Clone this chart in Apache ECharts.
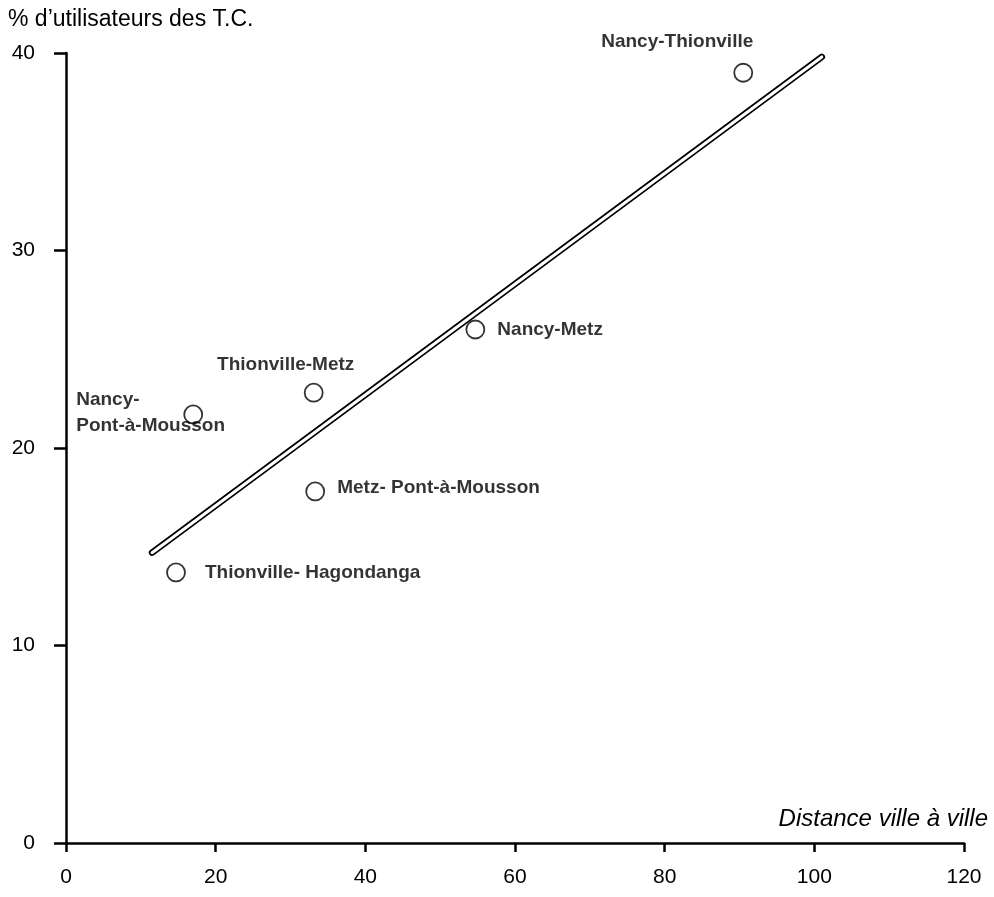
<!DOCTYPE html>
<html><head><meta charset="utf-8">
<script src="https://cdn.jsdelivr.net/npm/echarts@6/dist/echarts.min.js"></script>
<style>html,body{margin:0;padding:0;background:#fff}#c{width:994px;height:897px}</style>
</head><body><div id="c"></div>
<script>
const names = ['Nancy-Thionville','Nancy-Metz','Thionville-Metz','Nancy-\nPont-à-Mousson','Metz- Pont-à-Mousson','Thionville- Hagondanga'];
const distance = [90.5, 54.7, 33.1, 17.0, 33.3, 14.7];
const pctTC = [39.0, 26.0, 22.8, 21.7, 17.8, 13.7];
const fitX = [11.5, 101];
const fitY = [14.7, 39.8];
const xTicks = [0, 20, 40, 60, 80, 100, 120];
const yTicks = [0, 10, 20, 30, 40];

// label placement (style only)
const labelStyle = [
  {align:'center', offset:[-66,-31]},
  {align:'left', offset:[22,0]},
  {align:'center', offset:[-28,-28]},
  {align:'left', offset:[-117,-2]},
  {align:'left', offset:[22,-4]},
  {align:'left', offset:[29,0]}
];

const font = '"Liberation Sans", Arial, sans-serif';
const pts = names.map((n,i)=>{
  const s = labelStyle[i];
  return {name:n, value:[distance[i], pctTC[i]], label:{show:true, formatter:n,
    position:'inside', offset:s.offset, align:s.align, verticalAlign:'middle',
    fontFamily:font, fontWeight:'bold', fontSize:19, color:'#000', lineHeight:26,
    textBorderWidth:0, textBorderColor:'transparent'}};
});

const chart = echarts.init(document.getElementById('c'), null, {renderer:'canvas'});
chart.setOption({
  animation:false,
  backgroundColor:'#fff',
  grid:{left:66, right:30, top:53, bottom:54},
  xAxis:{type:'value', min:0, max:120, interval:20,
    axisLine:{show:true, onZero:false, lineStyle:{color:'#000', width:2.5}},
    axisTick:{show:true, length:9, lineStyle:{color:'#000', width:2.5}},
    splitLine:{show:false},
    axisLabel:{fontFamily:font, fontSize:21, color:'#000', margin:24,
      formatter:v=>xTicks.includes(v)?String(v):''}},
  yAxis:{type:'value', min:0, max:40, interval:10,
    axisLine:{show:true, onZero:false, lineStyle:{color:'#000', width:2.5}},
    axisTick:{show:true, length:12, lineStyle:{color:'#000', width:2.5}},
    splitLine:{show:false},
    axisLabel:{fontFamily:font, fontSize:21, color:'#000', margin:31,
      formatter:v=>yTicks.includes(v)?String(v):''}},
  graphic:[
    {type:'text', left:8, top:8, style:{text:"% d’utilisateurs des T.C.", font:'23px '+font, fill:'#000'}},
    {type:'text', right:6, top:807, style:{text:'Distance ville à ville', font:'italic 24px '+font, fill:'#000'}}
  ],
  series:[
    {type:'line', data:fitX.map((x,i)=>[x,fitY[i]]), symbol:'none', z:2,
      lineStyle:{color:'#000', width:6.5, cap:'round'}},
    {type:'line', data:fitX.map((x,i)=>[x,fitY[i]]), symbol:'none', z:3,
      lineStyle:{color:'#fff', width:3, cap:'round'}},
    {type:'scatter', data:pts, symbol:'circle', symbolSize:18, z:4,
      itemStyle:{color:'#fff', borderColor:'#000', borderWidth:1.8}}
  ]
});
</script></body></html>
